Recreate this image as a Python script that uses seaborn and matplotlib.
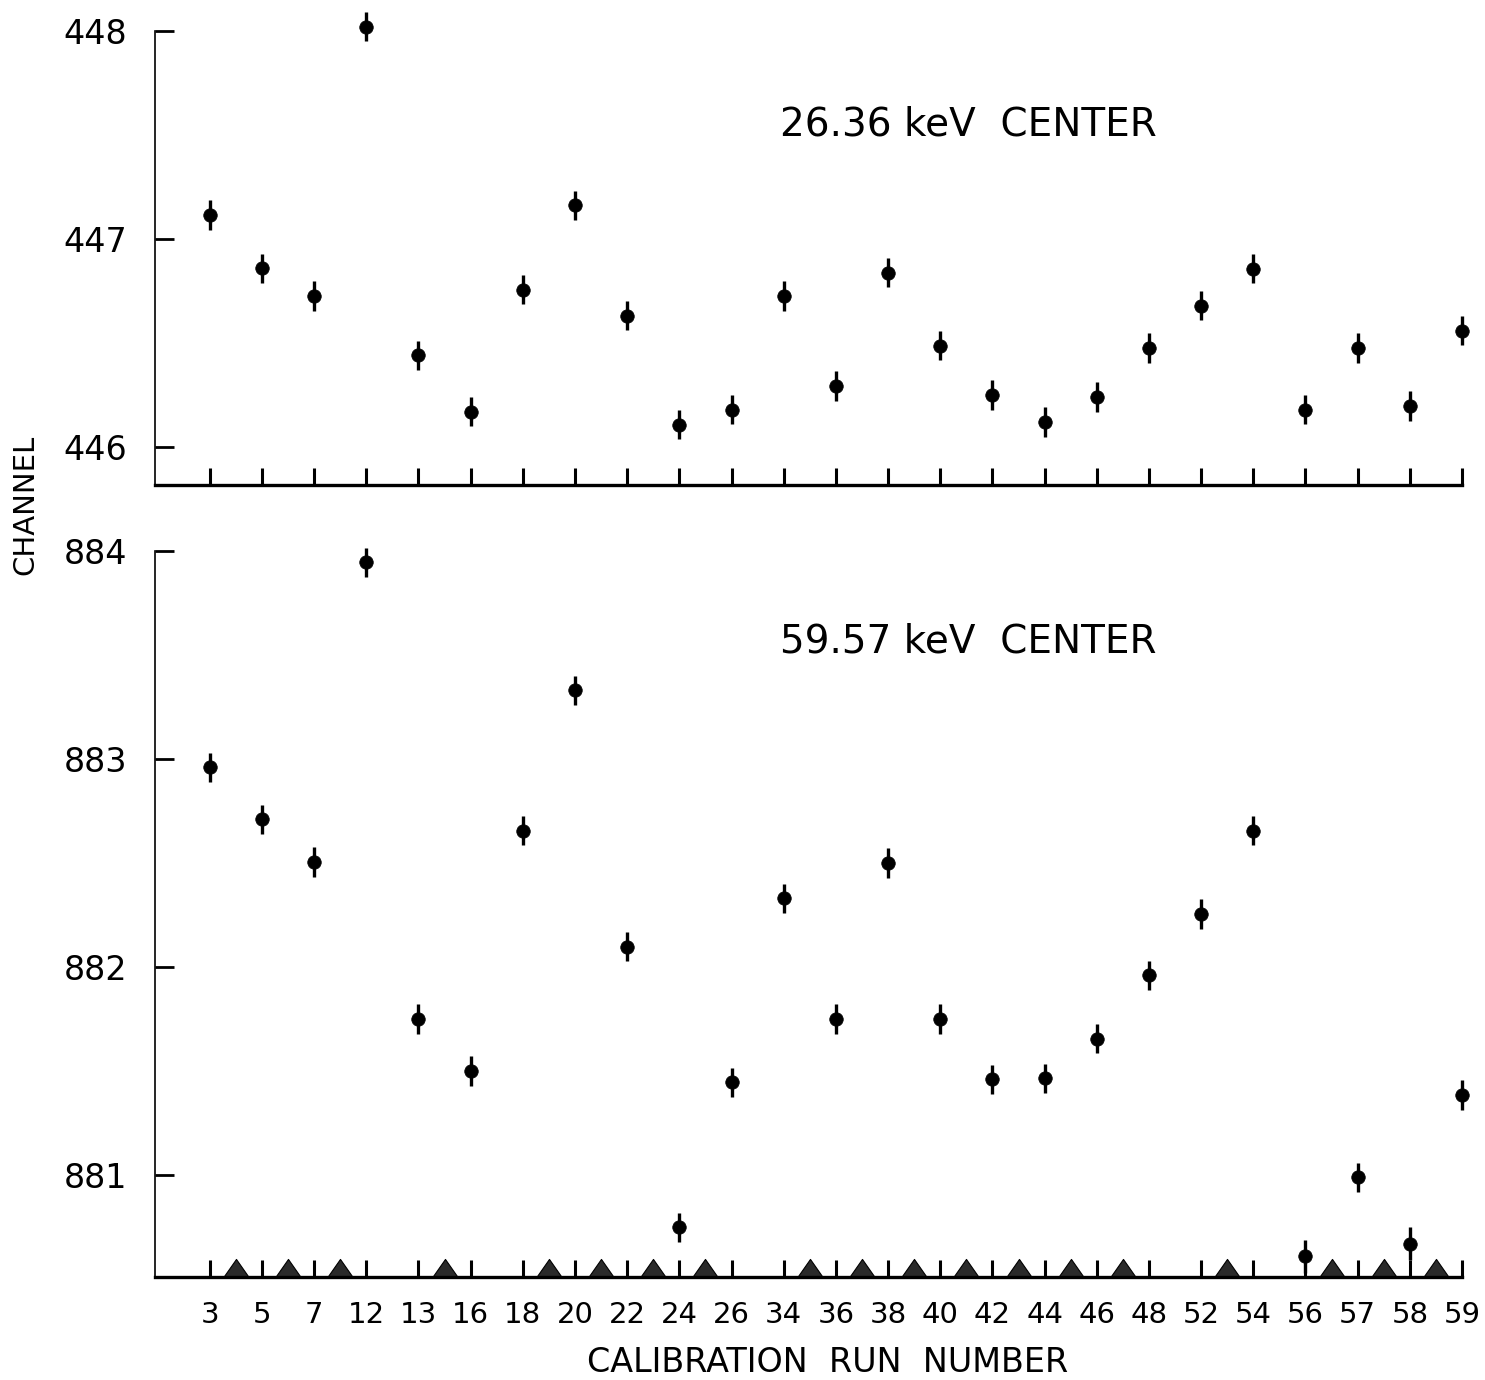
import numpy as np
import pandas as pd
import matplotlib
matplotlib.use("Agg")
import matplotlib.pyplot as plt
import seaborn as sns

runs = ["3", "5", "7", "12", "13", "16", "18", "20", "22", "24", "26", "34", "36",
        "38", "40", "42", "44", "46", "48", "52", "54", "56", "57", "58", "59"]

center_26 = [447.115, 446.86, 446.726, 448.02, 446.44, 446.17, 446.755, 447.163,
             446.63, 446.106, 446.178, 446.726, 446.293, 446.837, 446.486, 446.25,
             446.12, 446.24, 446.476, 446.678, 446.856, 446.178, 446.476, 446.197,
             446.558]
err_26 = [0.07, 0.07, 0.07, 0.07, 0.07, 0.07, 0.07, 0.07, 0.07, 0.07, 0.07, 0.07,
          0.07, 0.07, 0.07, 0.07, 0.07, 0.07, 0.07, 0.07, 0.07, 0.07, 0.07, 0.07, 0.07]

center_59 = [882.96, 882.71, 882.505, 883.945, 881.75, 881.50, 882.655, 883.33,
             882.097, 880.75, 881.445, 882.33, 881.75, 882.50, 881.75, 881.46,
             881.465, 881.655, 881.96, 882.255, 882.655, 880.61, 880.99, 880.67,
             881.385]
err_59 = [0.07, 0.07, 0.07, 0.07, 0.07, 0.07, 0.07, 0.07, 0.07, 0.07, 0.07,
          0.07, 0.07, 0.07, 0.07, 0.07, 0.07, 0.07, 0.07, 0.07, 0.07, 0.08,
          0.07, 0.08, 0.07]

# runs after which a triangle marker sits on the lower axis (between ticks)
triangle_after = ["3", "5", "7", "13", "18", "20", "22", "24", "34", "36", "38",
                  "40", "42", "44", "46", "52", "56", "57", "58"]

top_yticks = [446, 447, 448]
bot_yticks = [881, 882, 883, 884]

sns.set_theme(style="white")
plt.rcParams['font.family'] = ['DejaVu Sans']
plt.rcParams['text.color'] = 'black'
plt.rcParams['xtick.color'] = 'black'
plt.rcParams['ytick.color'] = 'black'

fig = plt.figure(figsize=(14.85, 13.8), dpi=100)
W, H = 1485, 1380
x0, x1 = 155, 1462
ax_top = fig.add_axes([x0 / W, 1 - 485 / H, (x1 - x0) / W, (485 - 31) / H])
ax_bot = fig.add_axes([x0 / W, 1 - 1277 / H, (x1 - x0) / W, (1277 - 551) / H])

df_top = pd.DataFrame({"run": runs, "ch": center_26, "err": err_26})
df_bot = pd.DataFrame({"run": runs, "ch": center_59, "err": err_59})

pos = np.arange(len(runs))

for ax, df, ylim, yt, title, ty in [
    (ax_top, df_top, (445.817, 448.0), top_yticks, "26.36 keV  CENTER", 0.793),
    (ax_bot, df_bot, (880.51, 884.0), bot_yticks, "59.57 keV  CENTER", 0.876),
]:
    ax.errorbar(pos, df["ch"], yerr=df["err"], fmt="none", ecolor="black",
                elinewidth=2.4, capsize=0, clip_on=False, zorder=3)
    sns.scatterplot(data=df, x="run", y="ch", ax=ax, color="black", s=95,
                    edgecolor="black", linewidth=0.5, clip_on=False, zorder=4,
                    legend=False)
    ax.set_xlim(-1.05, len(runs) - 1)
    ax.set_ylim(*ylim)
    ax.set_yticks(yt)
    ax.set_yticklabels([str(v) for v in yt])
    ax.set_xticks(pos)
    ax.set_xlabel("")
    ax.set_ylabel("")
    for s in ["top", "right"]:
        ax.spines[s].set_visible(False)
    ax.spines["left"].set_linewidth(1.2)
    ax.spines["bottom"].set_linewidth(2.4)
    ax.spines["left"].set_color("black")
    ax.spines["bottom"].set_color("black")
    ax.tick_params(axis="x", bottom=True, direction="in", length=12, width=2.2,
                   color="black")
    ax.tick_params(axis="y", left=True, direction="in", length=14, width=2.0,
                   color="black", labelsize=24, pad=20, labelcolor="black")
    ax.text(0.478, ty, title, transform=ax.transAxes, fontsize=28,
            va="center", ha="left", color="black")
    ax.set_facecolor("white")

ax_top.set_xticklabels([])
ax_bot.set_xticklabels(runs, fontsize=21, color="black")
ax_bot.tick_params(axis="x", pad=17)

# triangles on the lower axis
tri_pos = [runs.index(r) + 0.5 for r in triangle_after]
tri_df = pd.DataFrame({"x": tri_pos, "y": [880.51] * len(tri_pos)})
tri_marker = [(-0.7, 0.0), (0.7, 0.0), (0.0, 1.0), (-0.7, 0.0)]
ax_bot.scatter(tri_df["x"], tri_df["y"], marker=tri_marker, s=26 ** 2,
               color="#2a2a2a", edgecolors="black", linewidths=0.8,
               clip_on=False, zorder=2)

fig.text(0.017, 1 - 505 / H, "CHANNEL", rotation=90, fontsize=21,
         ha="center", va="center", color="black")
fig.text(828 / W, 1 - 1362 / H, "CALIBRATION  RUN  NUMBER", fontsize=24,
         ha="center", va="center", color="black")

fig.savefig("out.png", dpi=100, facecolor="white")
